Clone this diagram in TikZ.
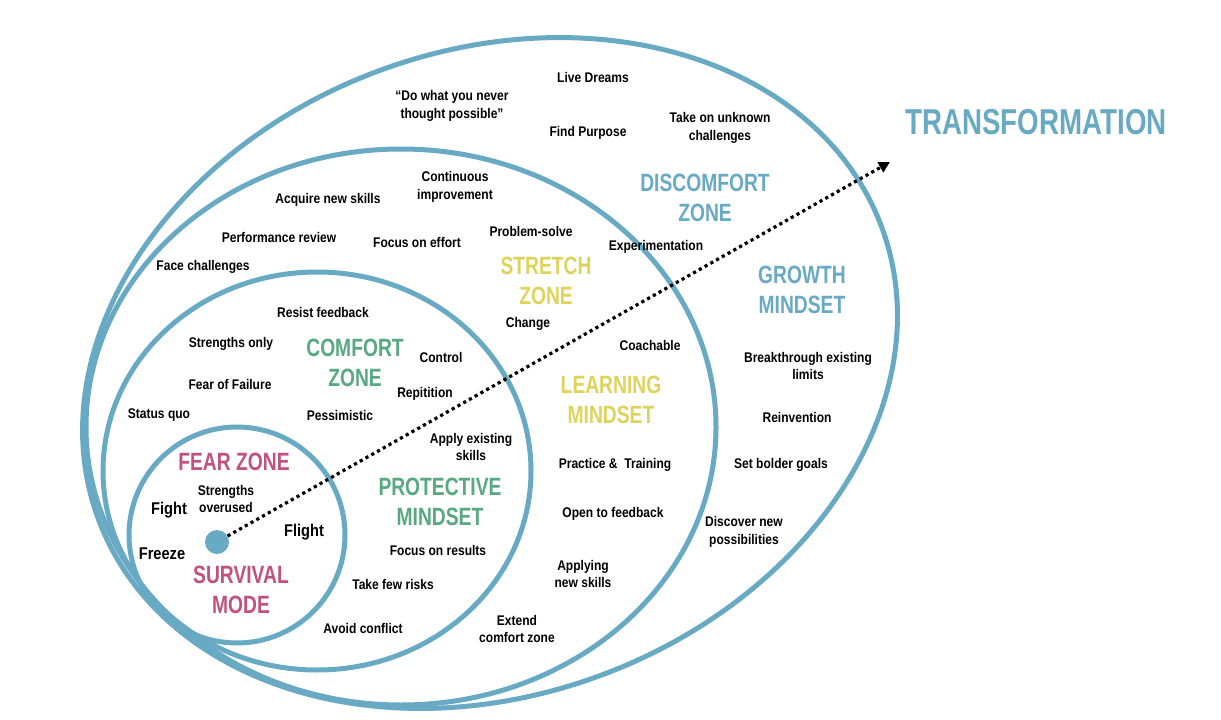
\documentclass[tikz,border=0pt]{standalone}
\usepackage{fontspec}
\usetikzlibrary{arrows.meta,positioning}

\newfontfamily\condFont{Liberation Sans}[FakeStretch=0.86]
\newfontfamily\condTitleFont{Liberation Sans}[FakeStretch=0.77]

\definecolor{ringBlue}{RGB}{104,170,196}
\definecolor{fearPink}{RGB}{192,82,128}
\definecolor{comfortGreen}{RGB}{88,168,130}
\definecolor{stretchYellow}{RGB}{222,212,92}

\tikzset{
  >={Triangle[length=11pt,width=11pt]},
  zoneRing/.style={draw=ringBlue, line width=5pt},
  itemLabel/.style={font=\condFont\bfseries\fontsize{14}{17.5}\selectfont, align=center, inner sep=0pt},
  reactLabel/.style={itemLabel, font=\condFont\bfseries\fontsize{17}{20}\selectfont},
  zoneLabel/.style={font=\condTitleFont\bfseries\fontsize{25}{29.5}\selectfont, align=center, inner sep=0pt},
  fearLabel/.style={zoneLabel, text=fearPink},
  comfortLabel/.style={zoneLabel, text=comfortGreen},
  stretchLabel/.style={zoneLabel, text=stretchYellow},
  discomfortLabel/.style={zoneLabel, text=ringBlue},
  coreDot/.style={circle, fill=ringBlue, minimum size=24pt, inner sep=0pt},
  pathArrow/.style={->, line width=3.2pt, dash pattern=on 3.2pt off 3.4pt},
}

\begin{document}
\begin{tikzpicture}[x=1pt, y=-1pt]

\fill[white] (0,0) rectangle (1221,720);
\useasboundingbox (0,0) rectangle (1221,720);

% ===== Zone rings =====
\draw[zoneRing, rotate around={20.6:(490,373)}] (490,373) ellipse [x radius=418, y radius=322]; % discomfort
\draw[zoneRing] (401,427) ellipse [x radius=315, y radius=278]; % stretch
\draw[zoneRing] (317,471) ellipse [x radius=214, y radius=199]; % comfort
\draw[zoneRing] (237,535) circle [radius=108];                   % fear

% ===== Discomfort zone =====
\foreach [count=\i] \x/\y/\txt in {593/77/{Live Dreams}, 452/106/{“Do what you never\\thought possible”},
    588/133/{Find Purpose}, 720/128/{Take on unknown\\challenges}, 808/366/{Breakthrough existing\\limits},
    797/417/{Reinvention}, 781/465/{Set bolder goals}, 744/532/{Discover new\\possibilities}} {
  \node[itemLabel] (disc\i) at (\x,\y) {\txt};
}
\node[discomfortLabel] (discTitle) at (705,198) {DISCOMFORT\\ZONE};
\node[discomfortLabel] (growthTitle) at (802,290) {GROWTH\\MINDSET};
\node[discomfortLabel, font=\condTitleFont\bfseries\fontsize{36}{40}\selectfont] (transTitle) at (1036,122) {TRANSFORMATION};

% ===== Stretch zone =====
\foreach [count=\i] \x/\y/\txt in {455/187/{Continuous\\improvement}, 328/200/{Acquire new skills},
    279/237/{Performance review}, 417/242/{Focus on effort}, 531/231/{Problem-solve},
    203/267/{Face challenges}, 656/247/{Experimentation}, 528/324/{Change}, 650/345/{Coachable},
    615/465/{Practice \& \ Training}, 613/514/{Open to feedback}, 583/574/{Applying\\new skills},
    517/629/{Extend\\comfort zone}} {
  \node[itemLabel] (stretch\i) at (\x,\y) {\txt};
}
\node[stretchLabel] (stretchTitle) at (546,281) {STRETCH\\ZONE};
\node[stretchLabel] (learnTitle) at (611,400) {LEARNING\\MINDSET};

% ===== Comfort zone =====
\foreach [count=\i] \x/\y/\txt in {323/312/{Resist feedback}, 231/344/{Strengths only}, 441/357/{Control},
    230/384/{Fear of Failure}, 425/394/{Repitition}, 159/415/{Status quo}, 340/415/{Pessimistic},
    471/447/{Apply existing\\skills}, 438/550/{Focus on results}, 393/584/{Take few risks},
    363/628/{Avoid conflict}} {
  \node[itemLabel] (comfort\i) at (\x,\y) {\txt};
}
\node[comfortLabel] (comfortTitle) at (355,363) {COMFORT\\ZONE};
\node[comfortLabel] (protectTitle) at (440,502) {PROTECTIVE\\MINDSET};

% ===== Fear zone =====
\node[fearLabel] (fearTitle) at (234,462) {FEAR ZONE};
\node[fearLabel] (survivalTitle) at (241,590) {SURVIVAL\\MODE};
\node[itemLabel] (overused) at (226,499) {Strengths\\overused};
\node[reactLabel] (fight) at (169,510) {Fight};
\node[reactLabel] (flight) at (304,532) {Flight};
\node[reactLabel] (freeze) at (162,554) {Freeze};

% ===== Path to transformation =====
\node[coreDot] (core) at (217,542) {};
\coordinate (transTip) at (890,162);
\draw[pathArrow] (core) -- (transTip);

\end{tikzpicture}
\end{document}
